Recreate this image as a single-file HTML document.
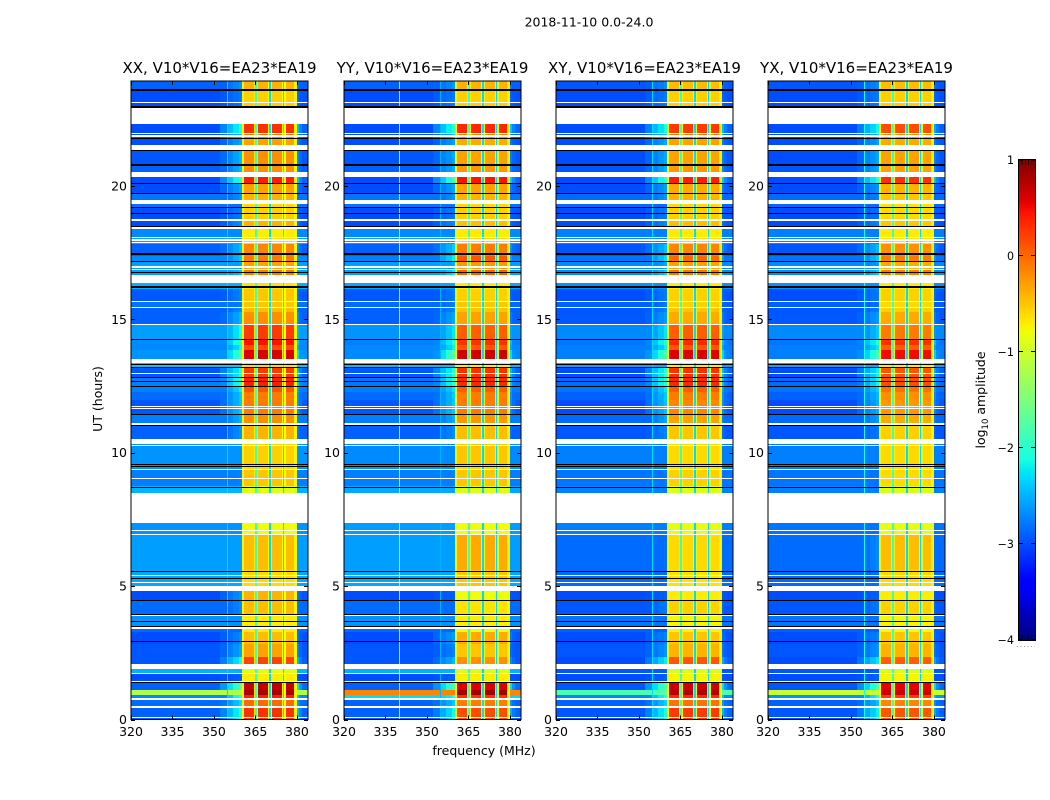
<!DOCTYPE html>
<html>
<head>
<meta charset="utf-8">
<title>2018-11-10 0.0-24.0</title>
<style>
html,body{margin:0;padding:0;background:#fff;width:1050px;height:800px;overflow:hidden}
svg{display:block;position:absolute;left:0;top:0}
text{font-family:"DejaVu Sans","Liberation Sans",sans-serif;fill:#000}
</style>
</head>
<body>
<svg id="figure" xmlns="http://www.w3.org/2000/svg" width="1050" height="800" viewBox="0 0 1050 800">
<rect x="0" y="0" width="1050" height="800" fill="#fff"/>
<text x="589" y="26.500" text-anchor="middle" font-size="12.5">2018-11-10 0.0-24.0</text>
<text transform="translate(102,399) rotate(-90)" text-anchor="middle" font-size="12.5">UT (hours)</text>
<text x="484" y="755" text-anchor="middle" font-size="12.5">frequency (MHz)</text>
<text transform="translate(985,400) rotate(-90)" text-anchor="middle" font-size="12.5">log<tspan font-size="8.500" dy="3">10</tspan><tspan dy="-3"> amplitude</tspan></text>
<g id="panels"></g>
<g id="colorbar"></g>
</svg>
<script>
// ---- data: all values ----
const panelTitles = ["XX, V10*V16=EA23*EA19", "YY, V10*V16=EA23*EA19", "XY, V10*V16=EA23*EA19", "YX, V10*V16=EA23*EA19"];
const xTicks = [320, 335, 350, 365, 380];
const yTicks = [0, 5, 10, 15, 20];
const colorbarTicks = [1, 0, -1, -2, -3, -4];

// time-band boundaries, hours UT
const timeEdges = [0,.47,.77,.92,1.1,1.43,1.7,2.08,2.35,2.83,3.28,3.5,3.93,4.48,5,5.6,6.92,7.36,8.49,8.75,9.35,9.5,10.33,11.03,11.45,11.97,12.27,12.5,12.83,13.17,13.5,13.85,14.03,14.25,14.8,15.27,15.45,15.7,16.13,16.36,16.66,16.85,17.15,17.38,17.82,18.05,18.5,18.76,19.2,19.47,19.7,20.07,20.33,20.52,20.78,21.3,21.53,21.75,22,22.32,22.92,23.6,24];

// in-band (360-380 MHz) log10 amplitude for each time band
const bandXX = [.3,0,.4,.8,.7,-.7,-.9,.2,-.3,-.45,-.7,-.7,-.45,-.4,-.6,-.45,-.8,-.8,-.9,-.5,-.6,-.55,-.4,-.2,-.1,-.1,.1,.4,.25,-.6,.6,.15,.45,.25,-.2,-.45,-.5,-.5,-.65,-.6,-.1,-.3,-.1,-.15,-.6,-.7,-.4,-.55,-.6,-.4,-.3,.4,-.3,-.2,-.2,-.3,-.3,-.1,.3,-.5,-.55,-.4];
const bandYY = [.15,-.1,.3,.85,.6,-.7,-.95,-.2,-.5,-.35,-.8,-.7,-.65,-.8,-.5,-.35,-.8,-.8,-.9,-.5,-.6,-.5,-.45,-.25,-.1,-.1,.05,.35,.3,-.7,.65,.1,.3,.05,-.3,-.5,-.5,-.55,-.7,-.6,.05,-.25,.1,-.1,-.6,-.7,-.45,-.55,-.6,-.4,-.3,.45,-.3,-.25,-.3,-.3,-.35,-.15,.35,-.5,-.55,-.4];
const bandXY = [.25,-.05,.35,.75,.65,-.75,-.95,.1,-.4,-.5,-.75,-.75,-.55,-.7,-.65,-.6,-.85,-.85,-.9,-.55,-.65,-.6,-.5,-.3,-.15,-.1,.05,.35,.3,-.7,.6,.1,.35,.05,-.35,-.5,-.55,-.55,-.7,-.6,-.05,-.3,0,-.15,-.6,-.7,-.45,-.55,-.6,-.4,-.35,.4,-.3,-.25,-.3,-.3,-.3,-.1,.25,-.5,-.55,-.45];
const bandYX = [.1,-.15,.25,.65,.55,-.75,-.95,.05,-.4,-.5,-.8,-.75,-.55,-.7,-.6,-.45,-.85,-.85,-.9,-.6,-.65,-.6,-.55,-.35,-.25,-.2,-.05,.15,.1,-.7,.5,.05,.3,-.1,-.35,-.55,-.6,-.55,-.7,-.6,-.1,-.35,-.1,-.2,-.65,-.7,-.5,-.6,-.65,-.5,-.4,.3,-.3,-.3,-.3,-.35,-.35,-.2,.15,-.5,-.55,-.45];

// out-of-band background log10 amplitude for each time band
const quietXX = [-2.9,-2.85,-2.7,-1.2,-2.9,-3,-2.5,-2.95,-2.95,-3,-2.85,-2.65,-2.85,-3,-2.55,-2.6,-2.65,-2.6,-2.5,-2.75,-2.65,-2.65,-2.9,-2.75,-2.95,-2.85,-2.75,-2.75,-2.95,-2.4,-2.65,-2.7,-2.7,-2.6,-2.9,-2.9,-2.8,-2.95,-2.5,-2.6,-2.6,-2.6,-2.7,-2.9,-2.55,-2.7,-3,-3.1,-2.8,-2.8,-3,-3,-2.9,-2.9,-2.95,-2.9,-3,-3,-3,-2.9,-3,-2.9];
const quietYY = [-2.9,-2.9,-2.3,-.15,-2.9,-3,-2.5,-2.95,-2.95,-3,-2.85,-2.65,-2.85,-3,-2.55,-2.6,-2.6,-2.6,-2.55,-2.75,-2.65,-2.7,-2.9,-2.75,-2.95,-2.85,-2.75,-2.8,-2.95,-2.45,-2.7,-2.7,-2.75,-2.65,-2.9,-2.9,-2.85,-2.95,-2.55,-2.6,-2.6,-2.6,-2.75,-2.9,-2.6,-2.7,-3,-3.1,-2.8,-2.8,-3.05,-3.05,-2.9,-2.9,-2.95,-2.9,-3,-3,-3,-2.9,-3,-2.9];
const quietXY = [-2.95,-2.9,-2.7,-1.8,-2.95,-3.05,-2.95,-3,-2.95,-3,-2.9,-2.8,-2.95,-3.05,-2.85,-2.85,-2.75,-2.6,-2.75,-2.8,-2.75,-2.75,-2.95,-2.85,-3,-2.9,-2.8,-2.85,-3,-2.55,-2.75,-2.75,-2.8,-2.7,-2.95,-2.95,-2.9,-3,-2.65,-2.6,-2.7,-2.7,-2.8,-2.95,-2.7,-2.75,-3.05,-3.15,-2.85,-2.85,-3.1,-3.1,-2.9,-2.95,-3,-2.9,-3.05,-3.05,-3.05,-2.9,-3.05,-2.95];
const quietYX = [-2.95,-2.9,-2.65,-1.05,-2.95,-3.05,-2.95,-3,-2.95,-3,-2.9,-2.8,-2.95,-3.05,-2.85,-2.85,-2.8,-2.6,-2.75,-2.8,-2.75,-2.75,-2.95,-2.85,-3,-2.9,-2.8,-2.85,-3,-2.55,-2.75,-2.75,-2.8,-2.7,-2.95,-2.95,-2.9,-3,-2.65,-2.6,-2.7,-2.7,-2.8,-2.95,-2.7,-2.75,-3.05,-3.15,-2.85,-2.85,-3.1,-3.1,-2.9,-2.95,-3,-2.9,-3.05,-3.05,-3.05,-2.9,-3.05,-2.95];

const bandByPanel = [bandXX, bandYY, bandXY, bandYX];
const quietByPanel = [quietXX, quietYY, quietXY, quietYX];

// channel groups, MHz
const channelEdges = [320,339.8,340.2,352,354.8,355.2,357,359,360,361,364.6,365,365.5,366,369.6,370,370.5,371,374.6,375,375.5,376,379,380,380.8,382,384];
// in-band ceiling per channel group (null = out of band)
const channelCap = [null,null,null,null,null,null,null,null,-.75,1,-.7,-1.9,-.7,1,-.8,-2.3,-.8,1,-.8,-2.3,-.8,1,-.75,null,null,null];
// how much out-of-band channels next to the band brighten with it
const channelLeak = [0,0,0,.25,.35,.5,.7,.9,0,0,0,0,0,0,0,0,0,0,0,0,0,0,0,.5,.25,.1];
// narrow interference lines: [channel group, level per panel]
const lineChannelGroup = [1, 4];
const lineLevelsXX = [null, -2.3];
const lineLevelsYY = [-1.1, -2.5];
const lineLevelsXY = [null, -2.3];
const lineLevelsYX = [null, -2.1];
const lineLevelsByPanel = [lineLevelsXX, lineLevelsYY, lineLevelsXY, lineLevelsYX];

// flagged (blank) time spans, hours
const flagStarts = [.06,.43,.73,1.4,1.7,1.89,3.39,3.88,4.82,5.1,5.36,6.91,7.07,7.36,9.02,9.35,10.25,10.33,11.04,11.64,11.72,12.97,13.37,14.79,15.41,15.65,16.36,16.85,16.94,17.86,17.95,18.03,18.39,18.68,18.76,19.33,20.33,21.35,21.85,21.95,22.32,23.09];
const flagEnds = [.11,.49,.79,1.44,1.74,2.08,3.49,3.93,5,5.16,5.42,6.95,7.1,8.49,9.05,9.39,10.29,10.51,11.11,11.67,11.76,13,13.51,14.84,15.46,15.69,16.66,16.89,16.98,17.9,18,18.07,18.46,18.72,18.76,19.47,20.52,21.53,21.89,21.99,22.92,23.13];
// zero-amplitude integrations drawn as black lines, hours
const blackLineHours = [1.42,2.94,3.5,3.71,3.95,4.48,5.32,5.58,8.73,9.5,9.56,11.04,11.45,12.5,12.69,12.82,13.21,13.32,14.26,16.21,16.25,16.77,17.19,17.45,17.48,18.48,18.98,19.21,19.72,20.09,20.78,20.82,21.35,21.78,22.96,23,23.59,23.63];

// ---- layout and scales ----
const SVGNS = "http://www.w3.org/2000/svg";
const panelLeftPx = [131, 344, 556, 768];
const plotWidth = 177, plotTop = 81, plotZero = 719.5, pxPerHour = 26.68;
const freqMin = 320, freqMax = 384, levelMin = -4, levelMax = 1;
const yMaxHours = (plotZero - plotTop) / pxPerHour;

function xScale(p, mhz) { return panelLeftPx[p] + (mhz - freqMin) * plotWidth / (freqMax - freqMin); }
function yScale(h) { return plotZero - Math.min(h, yMaxHours) * pxPerHour; }
function ramp(v, pts) {
  for (let i = 1; i < pts.length; i++) {
    if (v <= pts[i][0]) {
      const a = pts[i - 1], b = pts[i];
      return a[1] + (b[1] - a[1]) * (v - a[0]) / (b[0] - a[0]);
    }
  }
  return pts[pts.length - 1][1];
}
function colorScale(level) {
  const v = Math.max(0, Math.min(1, (level - levelMin) / (levelMax - levelMin)));
  const r = ramp(v, [[0,0],[.35,0],[.66,1],[.89,1],[1,.5]]);
  const g = ramp(v, [[0,0],[.125,0],[.375,1],[.64,1],[.91,0],[1,0]]);
  const b = ramp(v, [[0,.5],[.11,1],[.34,1],[.65,0],[1,0]]);
  return "rgb(" + Math.round(r * 255) + "," + Math.round(g * 255) + "," + Math.round(b * 255) + ")";
}
function cellLevel(p, row, ch) {
  const lineIdx = lineChannelGroup.indexOf(ch);
  if (lineIdx >= 0 && lineLevelsByPanel[p][lineIdx] !== null) return lineLevelsByPanel[p][lineIdx];
  const band = bandByPanel[p][row], quiet = quietByPanel[p][row];
  if (channelCap[ch] !== null) return Math.min(band, channelCap[ch]);
  return Math.max(quiet, -3 + channelLeak[ch] * (Math.max(0, band + .7) + .1));
}
function make(tag, parent) {
  const el = document.createElementNS(SVGNS, tag);
  parent.appendChild(el);
  return el;
}
function setRect(el, x0, y0, x1, y1, fill) {
  el.setAttribute("x", x0);
  el.setAttribute("y", y0);
  el.setAttribute("width", x1 - x0);
  el.setAttribute("height", y1 - y0);
  el.setAttribute("fill", fill);
  el.setAttribute("shape-rendering", "crispEdges");
}

// ---- panels ----
const panelsRoot = document.getElementById("panels");
panelTitles.forEach(function (title, p) {
  const left = panelLeftPx[p], right = left + plotWidth;
  const g = make("g", panelsRoot);
  
  

  for (let row = 0; row < timeEdges.length - 1; row++) {
    const y0 = Math.round(yScale(timeEdges[row + 1])), y1 = Math.round(yScale(timeEdges[row]));
    if (y1 <= y0) continue;
    for (let ch = 0; ch < channelEdges.length - 1; ch++) {
      const x0 = Math.round(xScale(p, channelEdges[ch])), x1 = Math.round(xScale(p, channelEdges[ch + 1]));
      if (x1 <= x0) continue;
      const cell = make("rect", g);
      
      
      setRect(cell, x0, y0, x1, y1, colorScale(cellLevel(p, row, ch)));
    }
  }
  flagStarts.forEach(function (start, i) {
    const y0 = Math.round(yScale(flagEnds[i]));
    const y1 = Math.max(y0 + 1, Math.round(yScale(start)));
    const flag = make("rect", g);
    
    
    setRect(flag, left, y0, right, y1, "#fff");
  });
  blackLineHours.forEach(function (h) {
    const y0 = Math.round(yScale(h));
    const line = make("rect", g);
    
    
    setRect(line, left, y0, right, y0 + 1, "#000");
  });

  const frame = make("rect", g);
  
  
  frame.setAttribute("x", left);
  frame.setAttribute("y", plotTop);
  frame.setAttribute("width", plotWidth);
  frame.setAttribute("height", plotZero - plotTop);
  frame.setAttribute("fill", "none");
  frame.setAttribute("stroke", "#000");
  frame.setAttribute("stroke-width", "1");

  const titleEl = make("text", g);
  
  
  titleEl.setAttribute("x", left + plotWidth / 2);
  titleEl.setAttribute("y", 73);
  titleEl.setAttribute("text-anchor", "middle");
  titleEl.setAttribute("font-size", "15");
  titleEl.textContent = title;

  xTicks.forEach(function (mhz) {
    const x = Math.round(xScale(p, mhz)) + .5;
    [[plotZero, plotZero - 4], [plotTop, plotTop + 4]].forEach(function (seg) {
      const tick = make("line", g);
      
      
      tick.setAttribute("x1", x);
      tick.setAttribute("x2", x);
      tick.setAttribute("y1", seg[0]);
      tick.setAttribute("y2", seg[1]);
      tick.setAttribute("stroke", "#000");
    });
    const label = make("text", g);
    
    
    label.setAttribute("x", xScale(p, mhz));
    label.setAttribute("y", 736);
    label.setAttribute("text-anchor", "middle");
    label.setAttribute("font-size", "12.5");
    label.textContent = mhz;
  });
  yTicks.forEach(function (h) {
    const y = Math.round(yScale(h)) + .5;
    [[left, left + 4], [right, right - 4]].forEach(function (seg) {
      const tick = make("line", g);
      
      
      tick.setAttribute("x1", seg[0]);
      tick.setAttribute("x2", seg[1]);
      tick.setAttribute("y1", y);
      tick.setAttribute("y2", y);
      tick.setAttribute("stroke", "#000");
    });
    const label = make("text", g);
    
    
    label.setAttribute("x", left - 4);
    label.setAttribute("y", yScale(h) + 4.5);
    label.setAttribute("text-anchor", "end");
    label.setAttribute("font-size", "12.5");
    label.textContent = h;
  });
});

// ---- colorbar ----
const barRoot = document.getElementById("colorbar");
const barLeft = 1019, barRight = 1035, barTop = 160, barBottom = 640;
function barY(level) { return barBottom - (level - levelMin) * (barBottom - barTop) / (levelMax - levelMin); }
for (let py = barTop; py < barBottom; py++) {
  const slice = make("rect", barRoot);
  
  
  const level = levelMax - (py + .5 - barTop) * (levelMax - levelMin) / (barBottom - barTop);
  setRect(slice, barLeft, py, barRight, py + 1, colorScale(level));
}
const barFrame = make("rect", barRoot);


barFrame.setAttribute("x", barLeft - .5);
barFrame.setAttribute("y", barTop - .5);
barFrame.setAttribute("width", barRight - barLeft + 1);
barFrame.setAttribute("height", barBottom - barTop + 1);
barFrame.setAttribute("fill", "none");
barFrame.setAttribute("stroke", "#000");
for (let i = 1; i <= 4; i++) {
  const xm = barLeft + i * (barRight - barLeft) / 5;
  [[barTop, barTop + 5], [barBottom, barBottom - 5]].forEach(function (seg) {
    const minor = make("line", barRoot);
    
    
    minor.setAttribute("x1", xm);
    minor.setAttribute("x2", xm);
    minor.setAttribute("y1", seg[0]);
    minor.setAttribute("y2", seg[1]);
    minor.setAttribute("stroke", "#000");
    minor.setAttribute("stroke-width", "0.7");
  });
}
const dots = make("line", barRoot);


dots.setAttribute("x1", barLeft - 2);
dots.setAttribute("x2", barRight);
dots.setAttribute("y1", 646.5);
dots.setAttribute("y2", 646.5);
dots.setAttribute("stroke", "#999");
dots.setAttribute("stroke-dasharray", "1 2.500");
colorbarTicks.forEach(function (level) {
  const y = Math.round(barY(level)) + (level === levelMax ? 0 : -.5);
  [[barLeft, barLeft + 4], [barRight, barRight - 4]].forEach(function (seg) {
    const tick = make("line", barRoot);
    
    
    tick.setAttribute("x1", seg[0]);
    tick.setAttribute("x2", seg[1]);
    tick.setAttribute("y1", y);
    tick.setAttribute("y2", y);
    tick.setAttribute("stroke", "#000");
  });
  const label = make("text", barRoot);
  
  
  label.setAttribute("x", 1014);
  label.setAttribute("y", barY(level) + 4);
  label.setAttribute("text-anchor", "end");
  label.setAttribute("font-size", "11.1");
  label.textContent = level < 0 ? "\u2212" + Math.abs(level) : level;
});
</script>
</body>
</html>
